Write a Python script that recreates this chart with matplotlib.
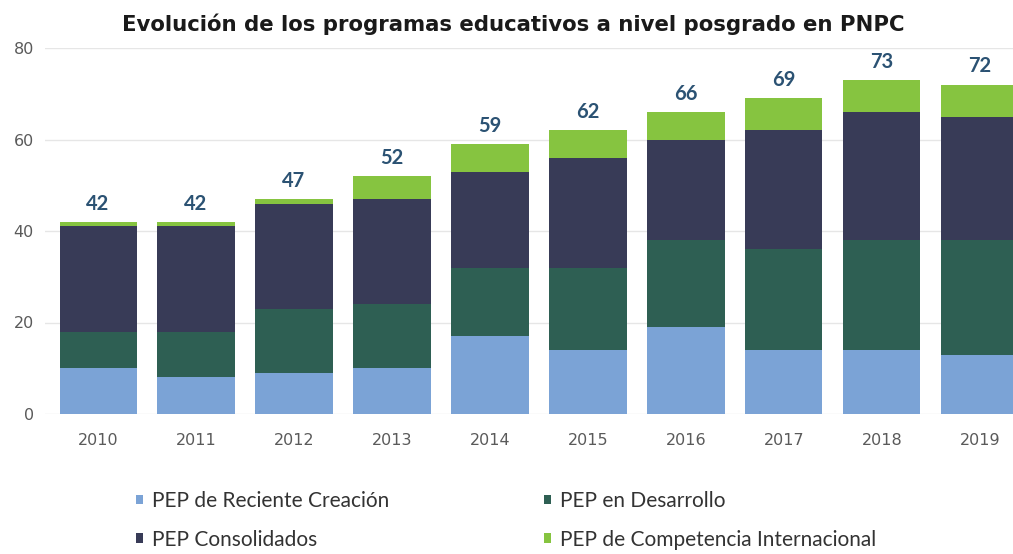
import numpy as np
import matplotlib
matplotlib.use('Agg')
import matplotlib.pyplot as plt

# Datos
years = ['2010', '2011', '2012', '2013', '2014', '2015', '2016', '2017', '2018', '2019']
reciente = [10, 8, 9, 10, 17, 14, 19, 14, 14, 13]
desarrollo = [8, 10, 14, 14, 15, 18, 19, 22, 24, 25]
consolidados = [23, 23, 23, 23, 21, 24, 22, 26, 28, 27]
internacional = [1, 1, 1, 5, 6, 6, 6, 7, 7, 7]

series_names = ['PEP de Reciente Creación', 'PEP en Desarrollo',
                'PEP Consolidados', 'PEP de Competencia Internacional']
colors = ['#7BA3D6', '#2E5F53', '#383B57', '#86C440']

W, H = 1013, 554
fig = plt.figure(figsize=(W / 100, H / 100), dpi=100)
ax = fig.add_axes([45 / W, (H - 414) / H, 968 / W, 366 / H])

x = np.arange(len(years))
bottom = np.zeros(len(years))
containers = []
for vals, name, col in zip([reciente, desarrollo, consolidados, internacional], series_names, colors):
    c = ax.bar(x, vals, width=0.786, bottom=bottom, color=col, label=name, zorder=2)
    containers.append(c)
    bottom = bottom + np.array(vals)

# Totales sobre cada barra
totals = [int(t) for t in bottom]
ax.bar_label(containers[-1], labels=[str(t) for t in totals], padding=6,
             fontsize=14.5, fontweight='bold', color='#2B5273', family='Lato')

ax.set_ylim(0, 80)
ax.set_xlim(-0.541, 9.337)
ax.set_yticks([0, 20, 40, 60, 80])
ax.set_xticks(x)
ax.set_xticklabels(years)
ax.tick_params(axis='both', length=0, labelsize=11.5, labelcolor='#5a5a5a')
ax.tick_params(axis='y', pad=8)
ax.tick_params(axis='x', pad=14)
ax.yaxis.grid(True, color='#e6e6e6', lw=1)
ax.set_axisbelow(True)
for s in ax.spines.values():
    s.set_visible(False)

fig.text(0.507, 1 - 24 / H, 'Evolución de los programas educativos a nivel posgrado en PNPC',
         ha='center', va='center', fontsize=15.3, fontweight='bold', color='#1a1a1a')

# Leyenda en dos columnas (dos leyendas separadas)
handles = containers
leg_kw = dict(frameon=False, loc='upper left', borderpad=0, borderaxespad=0,
              handlelength=0.35, handleheight=0.35, handletextpad=0.4,
              labelspacing=0.9, prop={'family': 'Lato', 'size': 15})
leg1 = fig.legend([handles[0], handles[2]], [series_names[0], series_names[2]],
                  bbox_to_anchor=(136 / W, (H - 491) / H), **leg_kw)
for t in leg1.get_texts():
    t.set_color('#333333')
leg2 = fig.legend([handles[1], handles[3]], [series_names[1], series_names[3]],
                  bbox_to_anchor=(544 / W, (H - 491) / H), **leg_kw)
for t in leg2.get_texts():
    t.set_color('#333333')

plt.savefig('out.png', dpi=100)
plt.close(fig)
